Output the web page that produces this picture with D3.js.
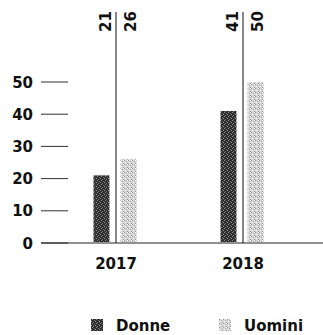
<!DOCTYPE html>
<html>
<head>
<meta charset="utf-8">
<script src="https://cdn.jsdelivr.net/npm/d3@7"></script>
<style>
  body { margin: 0; background: #fff; }
  svg { display: block; }
  text { font-family: "DejaVu Sans", sans-serif; font-weight: bold; fill: #111; }
</style>
</head>
<body>
<svg width="323" height="335"></svg>
<script>
const years = ["2017", "2018"];
const series = ["Donne", "Uomini"];
const donne = [21, 41];
const uomini = [26, 50];
const yTicks = [0, 10, 20, 30, 40, 50];

const svg = d3.select("svg");

// textures for the scanned-looking bars
const defs = svg.append("defs");
function texture(id, base, dots) {
    const p = defs.append("pattern")
        .attr("id", id)
        .attr("width", 4).attr("height", 4)
        .attr("patternUnits", "userSpaceOnUse");
    p.append("rect").attr("width", 4).attr("height", 4).attr("fill", base);
    dots.forEach(d => {
        p.append("rect").attr("x", d[0]).attr("y", d[1])
            .attr("width", 1).attr("height", 1).attr("fill", d[2]);
    });
}
texture("tex-donne", "#2e2e2e", [[1, 0, "#888"], [3, 1, "#666"], [0, 2, "#999"], [2, 3, "#777"]]);
texture("tex-uomini", "#d6d6d6", [[0, 0, "#999"], [2, 1, "#aaa"], [1, 2, "#fff"], [3, 3, "#999"], [3, 0, "#fff"]]);

const x = d3.scalePoint().domain(years).range([116, 243]);
const xs = d3.scaleBand().domain(series).range([-22.5, 20.5]).paddingInner(0.41);
const y = d3.scaleLinear().domain([0, 50]).range([243, 82]);

const color = { Donne: "url(#tex-donne)", Uomini: "url(#tex-uomini)" };

// y axis: labels + short ticks
const yAxis = svg.append("g");
yAxis.selectAll("line").data(yTicks).enter().append("line")
    .attr("x1", 41).attr("x2", 68)
    .attr("y1", d => y(d)).attr("y2", d => y(d))
    .attr("stroke", "#333").attr("stroke-width", 1);
yAxis.selectAll("text").data(yTicks).enter().append("text")
    .attr("x", 33).attr("y", d => y(d) + 5.5)
    .attr("text-anchor", "end")
    .attr("font-size", 15)
    .text(d => d);

// baseline
svg.append("line")
    .attr("x1", 41).attr("x2", 323)
    .attr("y1", y(0)).attr("y2", y(0))
    .attr("stroke", "#222").attr("stroke-width", 1);

const rows = years.map((yr, i) => ({ year: yr, Donne: donne[i], Uomini: uomini[i] }));

const groups = svg.selectAll("g.year").data(rows).enter().append("g")
    .attr("class", "year")
    .attr("transform", d => `translate(${x(d.year)},0)`);

// separator line between the two value labels
groups.append("line")
    .attr("x1", 0).attr("x2", 0)
    .attr("y1", 12).attr("y2", y(0))
    .attr("stroke", "#111").attr("stroke-width", 1);

groups.selectAll("rect").data(d => series.map(s => ({ s, v: d[s] }))).enter().append("rect")
    .attr("x", d => xs(d.s))
    .attr("width", xs.bandwidth())
    .attr("y", d => y(d.v))
    .attr("height", d => y(0) - y(d.v) - 1)
    .attr("fill", d => color[d.s]);

// rotated value labels above
groups.selectAll("text.val").data(d => series.map(s => ({ s, v: d[s] }))).enter().append("text")
    .attr("class", "val")
    .attr("transform", d => `translate(${d.s === "Donne" ? -5 : 20},11) rotate(-90)`)
    .attr("text-anchor", "end")
    .attr("font-size", 15)
    .text(d => d.v);

// year labels
groups.append("text")
    .attr("y", 269)
    .attr("text-anchor", "middle")
    .attr("font-size", 15)
    .text(d => d.year);

// legend
const legendX = [91, 219];
const legend = svg.selectAll("g.legend").data(series).enter().append("g")
    .attr("class", "legend")
    .attr("transform", (d, i) => `translate(${legendX[i]},319)`);
legend.append("rect")
    .attr("width", 12).attr("height", 12)
    .attr("fill", d => color[d]);
legend.append("text")
    .attr("x", 25).attr("y", 12)
    .attr("font-size", 15)
    .text(d => d);
</script>
</body>
</html>
